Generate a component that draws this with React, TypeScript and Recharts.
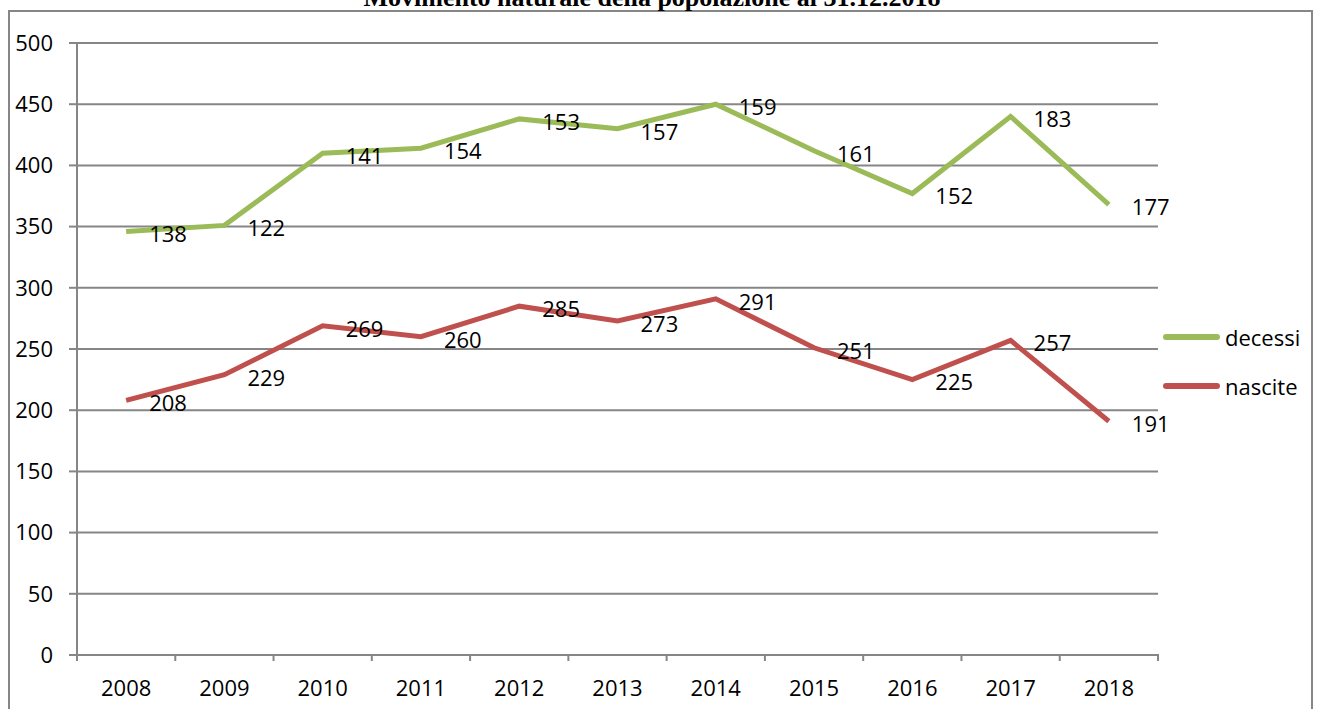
import { ComposedChart, Area, XAxis, YAxis, CartesianGrid, LabelList } from 'recharts';

const years = ['2008', '2009', '2010', '2011', '2012', '2013', '2014', '2015', '2016', '2017', '2018'];
const nascite = [208, 229, 269, 260, 285, 273, 291, 251, 225, 257, 191];
const decessi = [138, 122, 141, 154, 153, 157, 159, 161, 152, 183, 177];
const yTicks = [0, 50, 100, 150, 200, 250, 300, 350, 400, 450, 500];

const data = years.map((year, i) => ({ year, nascite: nascite[i], decessi: decessi[i] }));

const GREEN = '#9BBB59';
const RED = '#C0504D';
const GRID = '#868686';
const FONT = '"Open Sans", sans-serif';

const W = 1317;
const H = 709;
const M_LEFT = 77;
const M_RIGHT = 159;
const BAND = (W - M_LEFT - M_RIGHT) / years.length;

const makeLabel = (values: number[]) => (props: any) => {
    const { x, y, index } = props;
    return (
        <text x={x + 23} y={y + 5} fontSize={22} fontFamily={FONT} fill="#000" dominantBaseline="middle">
            {values[index]}
        </text>
    );
};

const XTick = (props: any) => {
    const { x, y, payload, index } = props;
    return (
        <g>
            <line x1={x - BAND / 2} x2={x - BAND / 2} y1={y - 9} y2={y - 2} stroke={GRID} strokeWidth={2} />
            {index === years.length - 1 && (
                <line x1={x + BAND / 2} x2={x + BAND / 2} y1={y - 9} y2={y - 2} stroke={GRID} strokeWidth={2} />
            )}
            <text x={x} y={y + 33} textAnchor="middle" fontSize={22} fontFamily={FONT} fill="#000">
                {payload.value}
            </text>
        </g>
    );
};

const legendItems = [
    { name: 'decessi', color: GREEN },
    { name: 'nascite', color: RED },
];

const App = () => {
    return (
        <div style={{ position: 'absolute', left: 0, top: 0, width: W, height: H, overflow: 'hidden', background: '#fff' }}>
            <svg width={W} height={H} style={{ position: 'absolute', left: 0, top: 0 }}>
                <rect x={9} y={11} width={1303} height={720} fill="none" stroke={GRID} strokeWidth={2} />
                <text x={652} y={6} textAnchor="middle" fontSize={26} fontWeight="bold" fontFamily='"Liberation Serif", serif' fill="#000">
                    Movimento naturale della popolazione al 31.12.2018
                </text>
            </svg>
            <div style={{ position: 'absolute', left: 0, top: 0 }}>
                <ComposedChart width={W} height={H} data={data} margin={{ top: 43, right: M_RIGHT, left: 0, bottom: 0 }}>
                    <CartesianGrid vertical={false} stroke={GRID} strokeWidth={2} />
                    <XAxis
                        dataKey="year"
                        scale="band"
                        height={54}
                        axisLine={{ stroke: GRID, strokeWidth: 2 }}
                        tickLine={false}
                        tick={<XTick />}
                        interval={0}
                    />
                    <YAxis
                        width={M_LEFT}
                        domain={[0, 500]}
                        ticks={yTicks}
                        interval={0}
                        axisLine={{ stroke: GRID, strokeWidth: 2 }}
                        tickLine={{ stroke: GRID, strokeWidth: 2 }}
                        tickSize={8}
                        tickMargin={16}
                        tick={{ fontSize: 22, fontFamily: FONT, fill: '#000' }}
                    />
                    <Area
                        type="linear"
                        dataKey="nascite"
                        stackId="a"
                        stroke={RED}
                        strokeWidth={5}
                        fill="none"
                        fillOpacity={0}
                        dot={false}
                        activeDot={false}
                        isAnimationActive={false}
                    >
                        <LabelList dataKey="nascite" content={makeLabel(nascite)} />
                    </Area>
                    <Area
                        type="linear"
                        dataKey="decessi"
                        stackId="a"
                        stroke={GREEN}
                        strokeWidth={5}
                        fill="none"
                        fillOpacity={0}
                        dot={false}
                        activeDot={false}
                        isAnimationActive={false}
                    >
                        <LabelList dataKey="decessi" content={makeLabel(decessi)} />
                    </Area>
                </ComposedChart>
            </div>
            {legendItems.map((item, i) => (
                <div
                    key={item.name}
                    style={{
                        position: 'absolute',
                        left: 1163,
                        top: 322 + i * 49,
                        display: 'flex',
                        alignItems: 'center',
                        fontFamily: FONT,
                        fontSize: 22,
                        color: '#000',
                    }}
                >
                    <div style={{ width: 57, height: 6, background: item.color, borderRadius: 3, marginRight: 5 }} />
                    <span>{item.name}</span>
                </div>
            ))}
        </div>
    );
};

export default App;
